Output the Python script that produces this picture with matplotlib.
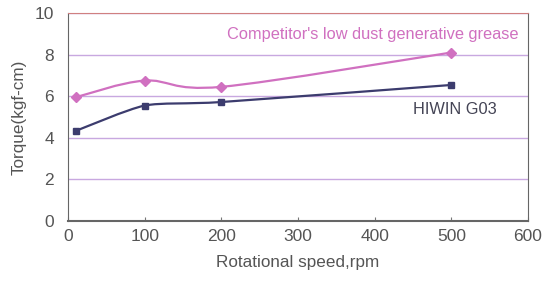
import numpy as np
import matplotlib.pyplot as plt
from matplotlib.path import Path
from matplotlib.patches import PathPatch

plt.rcParams['font.family'] = ['Liberation Sans', 'DejaVu Sans']

speed = [10, 100, 200, 500]
competitor = [5.95, 6.75, 6.45, 8.1]
hiwin = [4.33, 5.55, 5.72, 6.54]
yticks = [0, 2, 4, 6, 8, 10]
xticks = [0, 100, 200, 300, 400, 500, 600]


def smooth_path(x, y, k=6.0):
    # Catmull-Rom style bezier through the points (like a smoothed excel line)
    pts = np.column_stack([x, y]).astype(float)
    verts = [pts[0]]
    codes = [Path.MOVETO]
    n = len(pts)
    for i in range(n - 1):
        p0 = pts[i - 1] if i > 0 else pts[i]
        p1, p2 = pts[i], pts[i + 1]
        p3 = pts[i + 2] if i + 2 < n else pts[i + 1]
        c1 = p1 + (p2 - p0) / k
        c2 = p2 - (p3 - p1) / k
        verts += [c1, c2, p2]
        codes += [Path.CURVE4] * 3
    return Path(verts, codes)


fig = plt.figure(figsize=(5.46, 2.84), dpi=100)
ax = fig.add_axes([68 / 546, 1 - 221 / 284, 460 / 546, 208 / 284])

grid_col = '#c8a8e0'
for v in yticks[1:]:
    ax.axhline(v, color=grid_col, lw=1.0, zorder=1)

pink = '#d070c0'
navy = '#3c3c6e'
ax.add_patch(PathPatch(smooth_path(speed, competitor), fill=False, color=pink, lw=1.6, zorder=3))
ax.plot(speed, competitor, ls='none', marker='D', ms=5.5, color=pink, zorder=4)
ax.add_patch(PathPatch(smooth_path(speed, hiwin, 9.0), fill=False, color=navy, lw=1.6, zorder=3))
ax.plot(speed, hiwin, ls='none', marker='s', ms=5, color=navy, zorder=4)

ax.set_xlim(0, 600)
ax.set_ylim(0, 10)
ax.set_xticks(xticks)
ax.set_yticks(yticks)

txt = '#555555'
ax.tick_params(axis='x', direction='in', length=3, colors='#777777', labelcolor=txt, labelsize=12.5, pad=6)
ax.tick_params(axis='y', length=0, labelcolor=txt, labelsize=12.5, pad=10)
for s in ['left', 'right', 'bottom']:
    ax.spines[s].set_color('#666666')
ax.spines['top'].set_color('#d08080')
ax.spines['bottom'].set_linewidth(1.5)

ax.set_xlabel('Rotational speed,rpm', color=txt, fontsize=12.3, labelpad=8)
ax.set_ylabel('Torque(kgf-cm)', color=txt, fontsize=12.3, labelpad=6)

ax.text(398, 8.95, "Competitor's low dust generative grease", color=pink,
        fontsize=11.8, ha='center', va='center')
ax.text(505, 5.35, 'HIWIN G03', color='#444455', fontsize=11.8, ha='center', va='center')

fig.savefig('out.png', dpi=100)
